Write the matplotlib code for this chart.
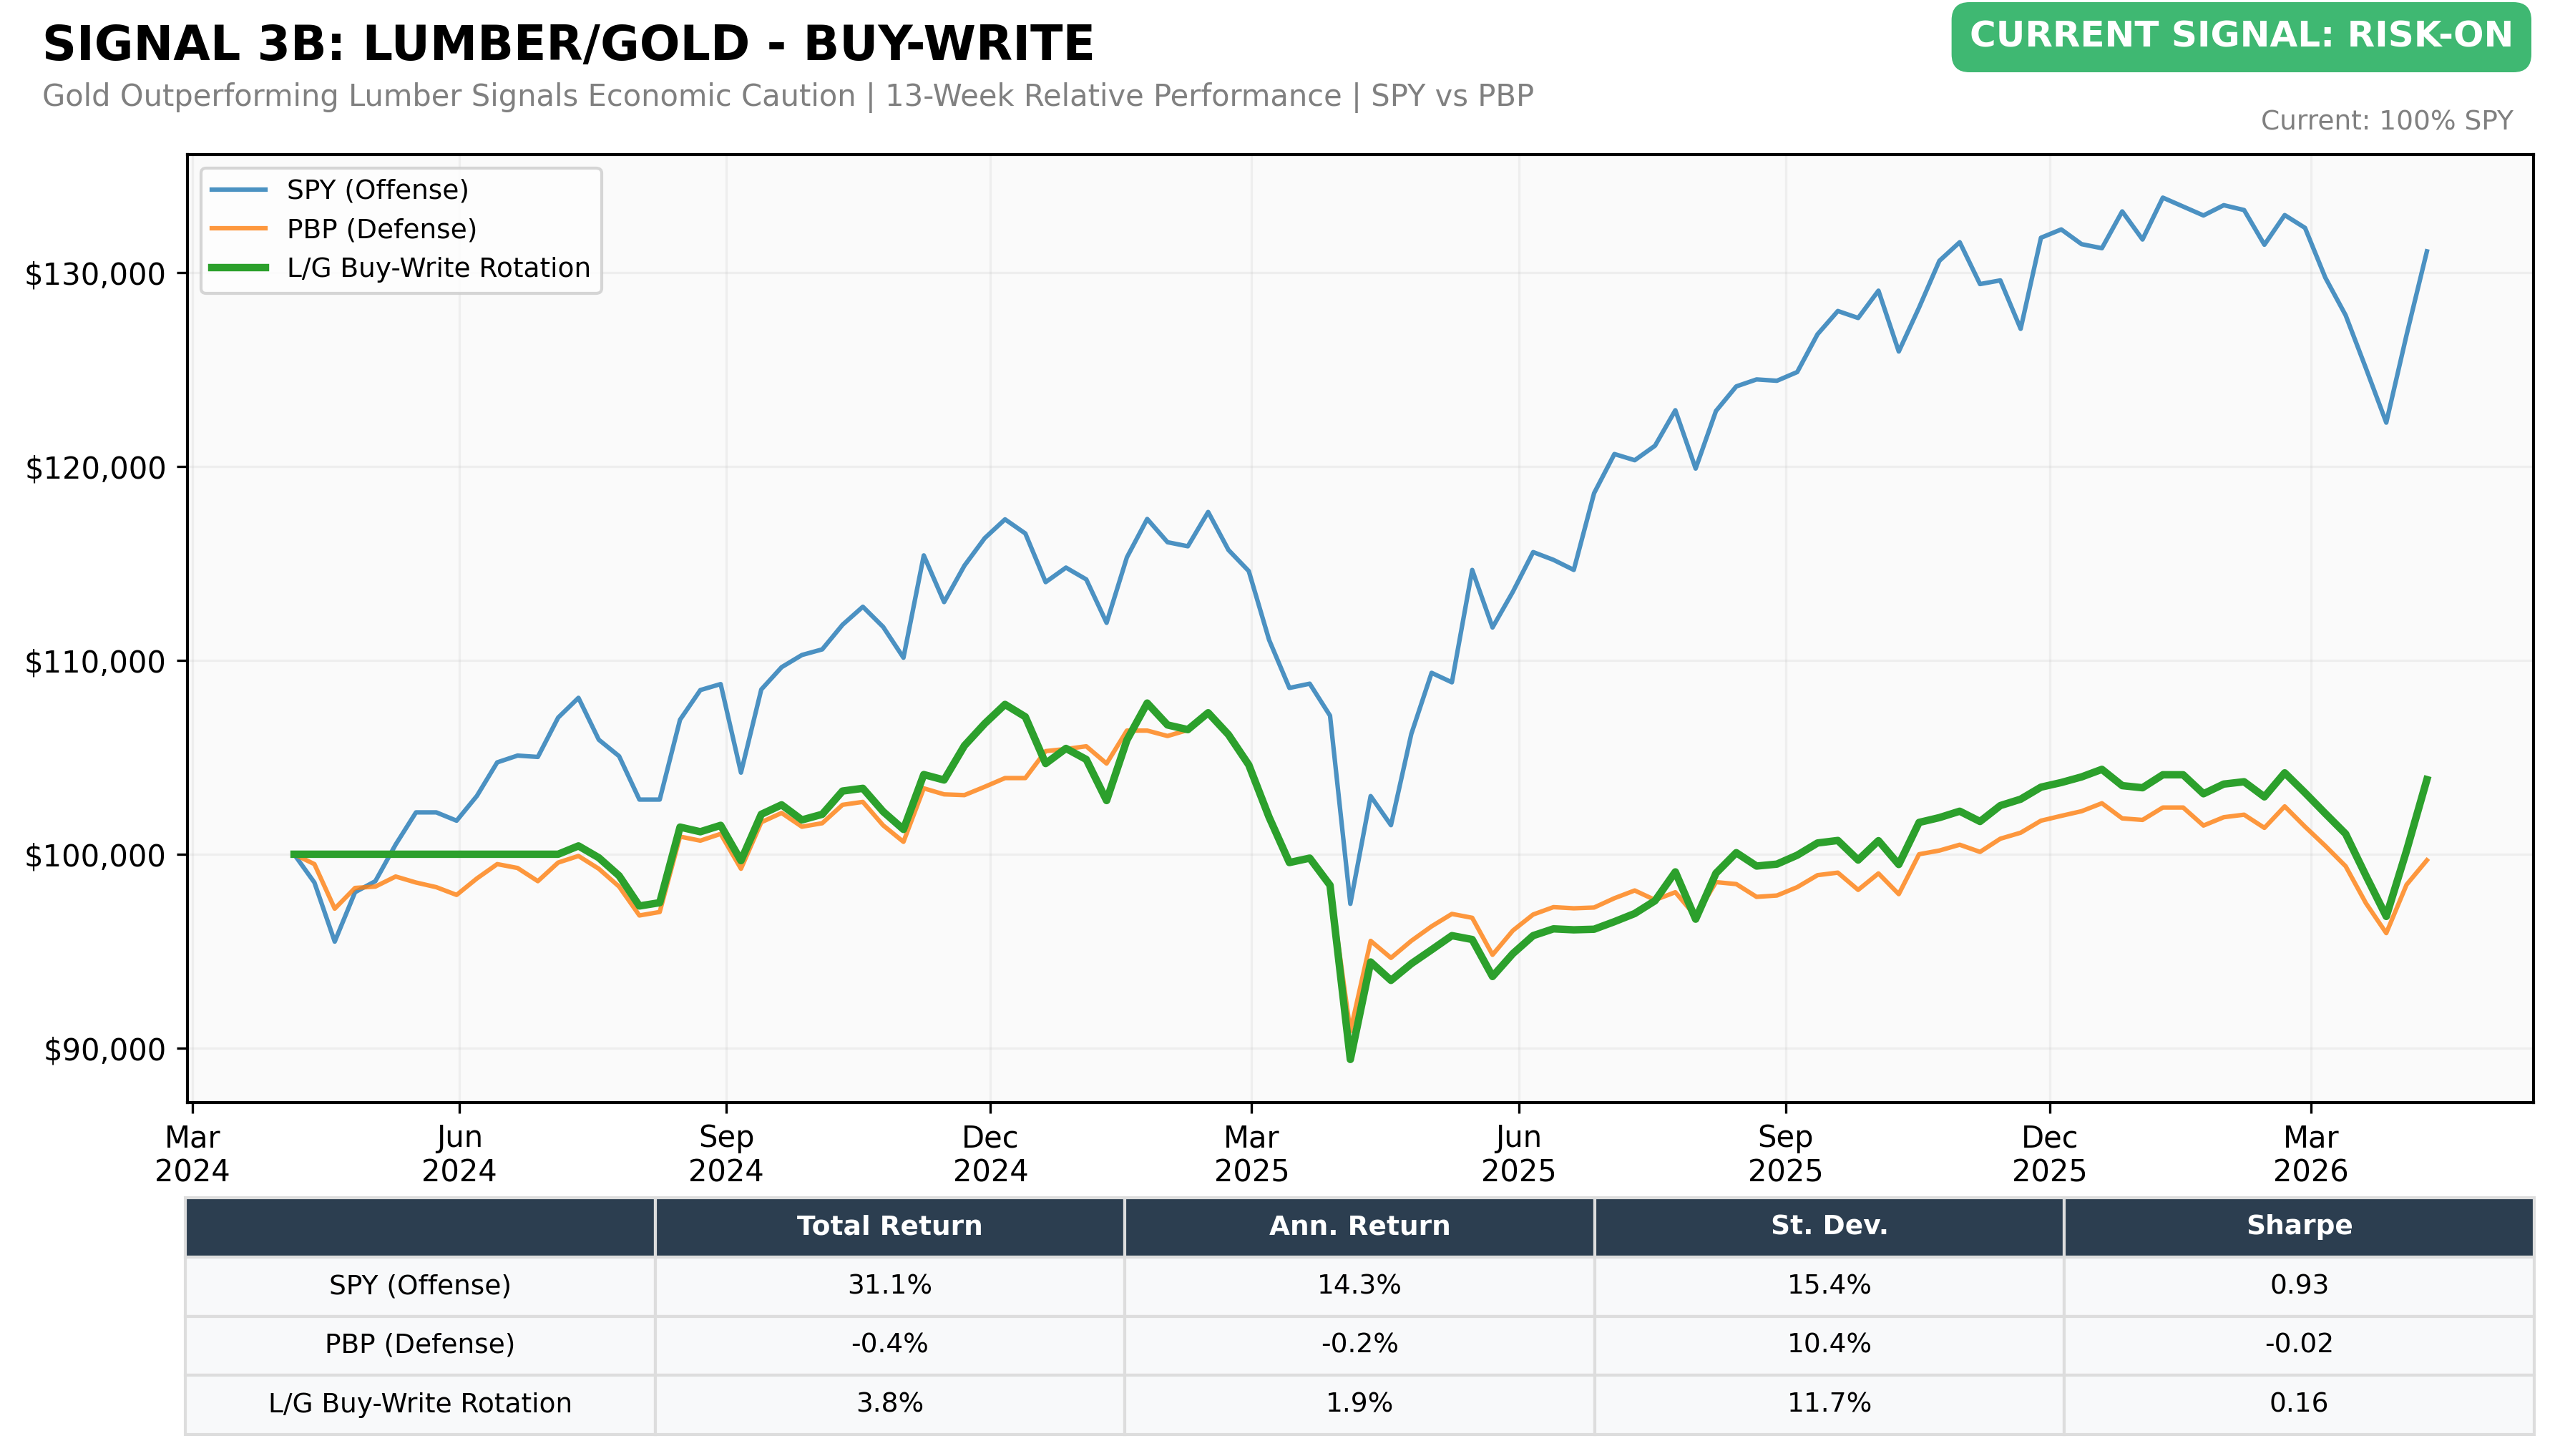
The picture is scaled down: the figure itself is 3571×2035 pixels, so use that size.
import matplotlib
matplotlib.use("Agg")
import matplotlib.pyplot as plt
import matplotlib.dates as mdates
from matplotlib.ticker import FuncFormatter
import pandas as pd

# ---------------- data ----------------
start_date = "2024-04-05"
n_weeks = 106
dates = pd.date_range(start_date, periods=n_weeks, freq="W-FRI")

spy = [100000, 98540, 95490, 98040, 98610, 100500, 102160, 102160, 101730, 103010,
       104740, 105090, 105020, 107050, 108070, 105910, 105060, 102820, 102820, 106940,
       108470, 108780, 104210, 108500, 109650, 110280, 110570, 111840, 112770, 111730,
       110140, 115420, 113010, 114890, 116310, 117280, 116550, 114040, 114790, 114180,
       111940, 115320, 117300, 116100, 115890, 117660, 115700, 114610, 111060, 108580,
       108800, 107150, 97440, 103000, 101500, 106200, 109360, 108870, 114670, 111700,
       113540, 115590, 115190, 114670, 118630, 120650, 120330, 121080, 122910, 119900,
       122870, 124140, 124500, 124430, 124880, 126830, 128030, 127670, 129080, 125940,
       128210, 130620, 131580, 129420, 129610, 127110, 131810, 132240, 131480, 131270,
       133170, 131720, 133880, 133420, 132960, 133490, 133240, 131450, 132980, 132320,
       129750, 127810, 125070, 122270, 126800, 131110]

pbp = [100000, 99490, 97190, 98260, 98330, 98850, 98540, 98300, 97900, 98750,
       99490, 99290, 98610, 99570, 99910, 99250, 98330, 96840, 97020, 100910,
       100700, 101050, 99250, 101650, 102130, 101420, 101600, 102550, 102700, 101490,
       100640, 103400, 103090, 103050, 103480, 103930, 103930, 105320, 105430, 105570,
       104680, 106380, 106380, 106100, 106410, 107300, 106170, 104610, 101910, 99570,
       99800, 98450, 90860, 95530, 94650, 95530, 96280, 96920, 96720, 94810,
       96060, 96890, 97270, 97210, 97250, 97730, 98130, 97640, 98040, 96800,
       98560, 98460, 97800, 97870, 98300, 98920, 99050, 98160, 99010, 97940,
       100000, 100190, 100490, 100120, 100800, 101110, 101730, 101980, 102220, 102630,
       101850, 101770, 102410, 102410, 101480, 101910, 102040, 101360, 102470, 101420,
       100430, 99380, 97470, 95930, 98430, 99690]

lg = [100000, 100000, 100000, 100000, 100000, 100000, 100000, 100000, 100000, 100000,
      100000, 100000, 100000, 100000, 100430, 99820, 98890, 97330, 97500, 101400,
      101160, 101490, 99670, 102060, 102550, 101770, 102060, 103260, 103400, 102200,
      101280, 104110, 103830, 105600, 106740, 107730, 107090, 104680, 105460, 104890,
      102770, 105890, 107800, 106670, 106430, 107300, 106170, 104610, 101910, 99570,
      99800, 98400, 89410, 94440, 93490, 94350, 95070, 95800, 95600, 93690,
      94870, 95800, 96150, 96100, 96130, 96520, 96940, 97600, 99090, 96650,
      99020, 100080, 99390, 99490, 99950, 100580, 100710, 99700, 100700, 99470,
      101640, 101890, 102220, 101690, 102510, 102840, 103460, 103700, 103990, 104380,
      103540, 103430, 104100, 104100, 103120, 103620, 103740, 102960, 104200, 103170,
      102100, 101050, 98890, 96790, 100190, 103850]

series_names = ["SPY (Offense)", "PBP (Defense)", "L/G Buy-Write Rotation"]

table_cols = ["", "Total Return", "Ann. Return", "St. Dev.", "Sharpe"]
table_rows = [
    ["SPY (Offense)", "31.1%", "14.3%", "15.4%", "0.93"],
    ["PBP (Defense)", "-0.4%", "-0.2%", "10.4%", "-0.02"],
    ["L/G Buy-Write Rotation", "3.8%", "1.9%", "11.7%", "0.16"],
]

title_text = "SIGNAL 3B: LUMBER/GOLD - BUY-WRITE"
subtitle_text = ("Gold Outperforming Lumber Signals Economic Caution | "
                 "13-Week Relative Performance | SPY vs PBP")
signal_text = "CURRENT SIGNAL: RISK-ON"
current_text = "Current: 100% SPY"

# ---------------- figure ----------------
W, H = 3571, 2035
DPI = 300
fig = plt.figure(figsize=(W / DPI, H / DPI), dpi=DPI)
fig.patch.set_facecolor("white")

ax = fig.add_axes([262 / W, 1 - 1541 / H, (3541 - 262) / W, (1541 - 216) / H])
ax.set_facecolor("#fafafa")

ax.plot(dates, spy, color="#1f77b4", alpha=0.8, lw=1.5, label=series_names[0])
ax.plot(dates, pbp, color="#ff7f0e", alpha=0.8, lw=1.5, label=series_names[1])
ax.plot(dates, lg, color="#2ca02c", lw=2.5, label=series_names[2])

ax.xaxis.set_major_locator(mdates.MonthLocator(bymonth=[3, 6, 9, 12]))
ax.xaxis.set_major_formatter(mdates.DateFormatter("%b\n%Y"))
ax.yaxis.set_major_formatter(FuncFormatter(lambda v, p: f"${v:,.0f}"))
ax.tick_params(labelsize=10)
ax.grid(True, alpha=0.15)
for s in ax.spines.values():
    s.set_linewidth(1.0)

ax.legend(loc="upper left", fontsize=9)

# header texts
fig.text(59 / W, 1 - 84 / H, title_text, fontsize=16, fontweight="bold",
         ha="left", va="baseline", color="black")
fig.text(59 / W, 1 - 148 / H, subtitle_text, fontsize=10, color="#808080",
         ha="left", va="baseline")
fig.text(3513 / W, 1 - 52 / H, signal_text, fontsize=12, fontweight="bold",
         color="white", ha="right", va="center",
         bbox=dict(boxstyle="round,pad=0.5", facecolor="#3fb872",
                   edgecolor="none"))
fig.text(3513 / W, 1 - 182 / H, current_text, fontsize=9, color="#808080",
         ha="right", va="baseline")

# table
tax = fig.add_axes([259 / W, 1 - 2005 / H, (3542 - 259) / W, (2005 - 1674) / H])
tax.axis("off")
tbl = tax.table(cellText=table_rows, colLabels=table_cols, cellLoc="center",
                bbox=[0, 0, 1, 1])
tbl.auto_set_font_size(False)
tbl.set_fontsize(9)
for (r, c), cell in tbl.get_celld().items():
    cell.set_edgecolor("#dddddd")
    cell.set_linewidth(1.0)
    if r == 0:
        cell.set_facecolor("#2c3e50")
        cell.get_text().set_color("white")
        cell.get_text().set_fontweight("bold")
    else:
        cell.set_facecolor("#f8f9fa")

fig.savefig("out.png", dpi=DPI)
